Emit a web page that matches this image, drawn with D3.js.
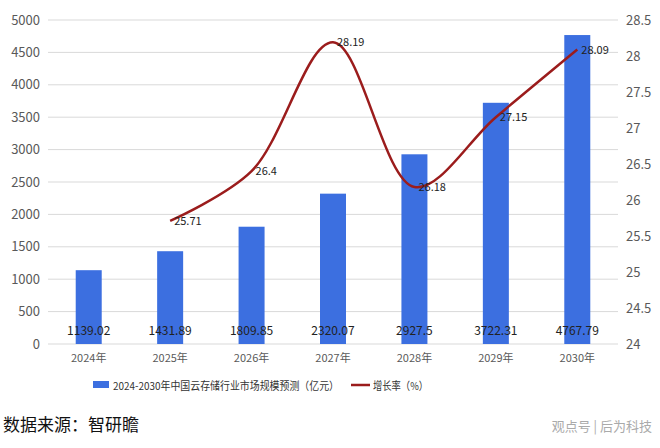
<!DOCTYPE html>
<html><head><meta charset="utf-8">
<script src="https://cdn.jsdelivr.net/npm/d3@7"></script>
<style>body{margin:0;background:#fff}text{font-family:"Noto Sans CJK SC","Noto Sans",sans-serif}</style>
</head><body><div id="chart"></div>
<script>
const years = ["2024年","2025年","2026年","2027年","2028年","2029年","2030年"];
const marketSize = [1139.02,1431.89,1809.85,2320.07,2927.5,3722.31,4767.79];
const growthYears = ["2025年","2026年","2027年","2028年","2029年","2030年"];
const growthRate = [25.71,26.4,28.19,26.18,27.15,28.09];
const leftTicks = [0,500,1000,1500,2000,2500,3000,3500,4000,4500,5000];
const rightTicks = [24,24.5,25,25.5,26,26.5,27,27.5,28,28.5];

const W = 660, H = 448;
const margin = {top: 20, right: 42, bottom: 104, left: 48};
const svg = d3.select("#chart").append("svg").attr("width", W).attr("height", H);
const g = svg.append("g").attr("transform", `translate(${margin.left},${margin.top})`);
const w = W - margin.left - margin.right, h = H - margin.top - margin.bottom;

const x = d3.scaleBand().domain(years).range([0, w]);
const y1 = d3.scaleLinear().domain([0, 5000]).range([h, 0]);
const y2 = d3.scaleLinear().domain([24, 28.5]).range([h, 0]);

// grid
g.selectAll(".grid").data(leftTicks).join("line")
    .attr("x1", 0).attr("x2", w)
    .attr("y1", d => y1(d)).attr("y2", d => y1(d))
    .attr("stroke", "#d9d9d9");

const axL = g.append("g").call(d3.axisLeft(y1).tickValues(leftTicks).tickSize(0).tickPadding(8).tickFormat(d3.format("d")));
const axR = g.append("g").attr("transform", `translate(${w},0)`)
    .call(d3.axisRight(y2).tickValues(rightTicks).tickSize(0).tickPadding(8).tickFormat(d3.format("~g")));
const axB = g.append("g").attr("transform", `translate(0,${h})`)
    .call(d3.axisBottom(x).tickSize(0).tickPadding(10));
[axL, axR, axB].forEach(a => {
    a.select(".domain").remove();
    a.selectAll("text").attr("fill", "#595959").style("font-size", "13px");
});
axB.selectAll("text").style("font-size", "11px");

const bw = 26;
g.selectAll(".bar").data(marketSize).join("rect")
    .attr("x", (d, i) => x(years[i]) + x.bandwidth() / 2 - bw / 2)
    .attr("y", d => y1(d))
    .attr("width", bw).attr("height", d => h - y1(d))
    .attr("fill", "#3c6fe0");

g.selectAll(".barLbl").data(marketSize).join("text")
    .attr("x", (d, i) => x(years[i]) + x.bandwidth() / 2)
    .attr("y", h - 9).attr("text-anchor", "middle")
    .style("font-size", "12px").attr("fill", "#222")
    .text(d => d);

const line = d3.line()
    .x((d, i) => x(growthYears[i]) + x.bandwidth() / 2)
    .y(d => y2(d))
    .curve(d3.curveCatmullRom.alpha(0.5));
g.append("path").datum(growthRate).attr("d", line)
    .attr("fill", "none").attr("stroke", "#9b1c1c").attr("stroke-width", 2.5);

g.selectAll(".lineLbl").data(growthRate).join("text")
    .attr("x", (d, i) => x(growthYears[i]) + x.bandwidth() / 2 + 4)
    .attr("y", d => y2(d) + 4)
    .style("font-size", "11px").attr("fill", "#222")
    .text(d => d);

// legend
const lg = svg.append("g").attr("transform", "translate(93,386)");
lg.append("rect").attr("x", 0).attr("y", -5).attr("width", 16).attr("height", 7).attr("fill", "#3c6fe0");
lg.append("text").attr("x", 20).attr("y", 4).style("font-size", "11px").attr("fill", "#333")
    .attr("textLength", 226).attr("lengthAdjust", "spacingAndGlyphs")
    .text("2024-2030年中国云存储行业市场规模预测（亿元）");
lg.append("line").attr("x1", 258).attr("x2", 277).attr("y1", -1).attr("y2", -1)
    .attr("stroke", "#9b1c1c").attr("stroke-width", 2.5);
lg.append("text").attr("x", 280).attr("y", 4).style("font-size", "11px").attr("fill", "#333")
    .attr("textLength", 55).attr("lengthAdjust", "spacingAndGlyphs")
    .text("增长率（%）");

svg.append("text").attr("x", 3).attr("y", 431).style("font-size", "17px").attr("fill", "#111")
    .text("数据来源：智研瞻");
svg.append("text").attr("x", 652).attr("y", 431).attr("text-anchor", "end")
    .style("font-size", "13px").attr("fill", "#aaa").text("观点号 | 后为科技");
</script></body></html>
